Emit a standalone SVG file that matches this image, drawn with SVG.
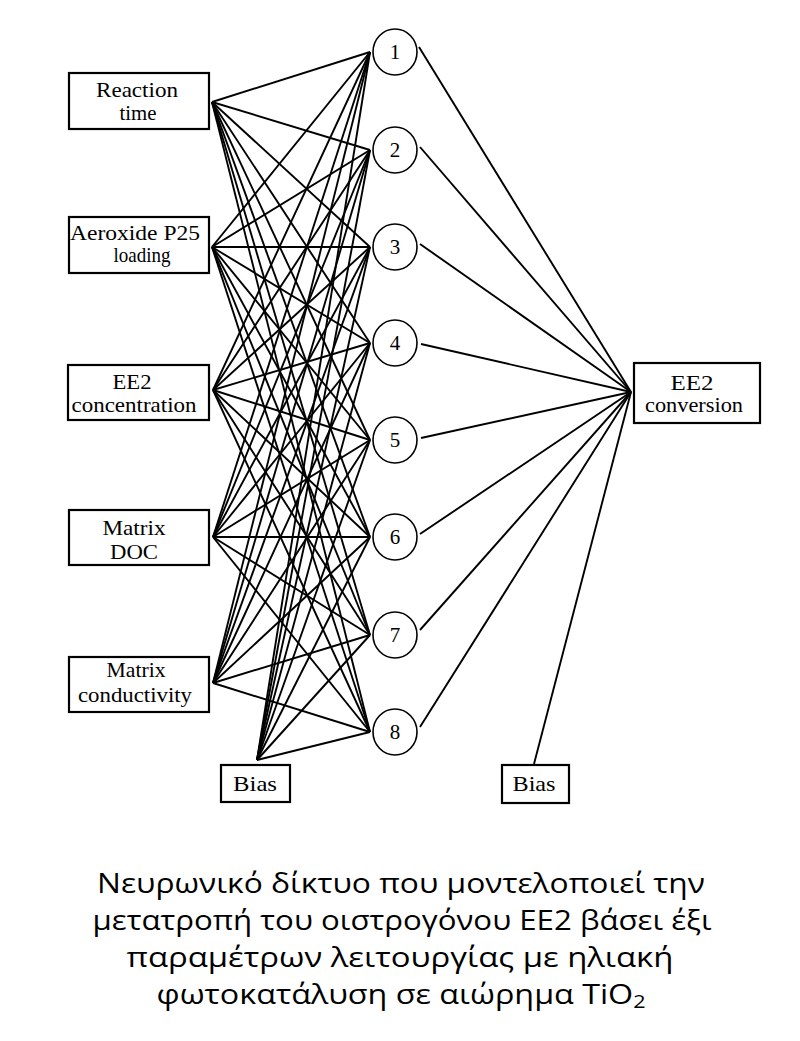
<svg xmlns="http://www.w3.org/2000/svg" width="800" height="1041" viewBox="0 0 800 1041">
<style>
.box{fill:#fff;stroke:#000;stroke-width:2.2}
.nd{fill:#fff;stroke:#000;stroke-width:1.6}
.lbl{font-family:"Liberation Serif","Times New Roman",serif;font-size:21px;fill:#000;text-anchor:middle}
.num{font-family:"Liberation Serif","Times New Roman",serif;font-size:21px;fill:#000;text-anchor:middle}
.cap{font-family:"Open Sans","Noto Sans","DejaVu Sans",sans-serif;font-size:27px;fill:#000;text-anchor:middle}
#connectors line{stroke:#000;stroke-width:1.9}
</style>
<rect width="800" height="1041" fill="#fff"/>
<g id="connectors">
<line x1="212" y1="102" x2="370" y2="52"/><line x1="212" y1="102" x2="370" y2="150"/><line x1="212" y1="102" x2="370" y2="247"/><line x1="212" y1="102" x2="370" y2="343"/><line x1="212" y1="102" x2="370" y2="440"/><line x1="212" y1="102" x2="370" y2="537"/><line x1="212" y1="102" x2="370" y2="635"/><line x1="212" y1="102" x2="370" y2="732"/>
<line x1="212" y1="247" x2="370" y2="52"/><line x1="212" y1="247" x2="370" y2="150"/><line x1="212" y1="247" x2="370" y2="247"/><line x1="212" y1="247" x2="370" y2="343"/><line x1="212" y1="247" x2="370" y2="440"/><line x1="212" y1="247" x2="370" y2="537"/><line x1="212" y1="247" x2="370" y2="635"/><line x1="212" y1="247" x2="370" y2="732"/>
<line x1="213" y1="390" x2="370" y2="52"/><line x1="213" y1="390" x2="370" y2="150"/><line x1="213" y1="390" x2="370" y2="247"/><line x1="213" y1="390" x2="370" y2="343"/><line x1="213" y1="390" x2="370" y2="440"/><line x1="213" y1="390" x2="370" y2="537"/><line x1="213" y1="390" x2="370" y2="635"/><line x1="213" y1="390" x2="370" y2="732"/>
<line x1="213" y1="537" x2="370" y2="52"/><line x1="213" y1="537" x2="370" y2="150"/><line x1="213" y1="537" x2="370" y2="247"/><line x1="213" y1="537" x2="370" y2="343"/><line x1="213" y1="537" x2="370" y2="440"/><line x1="213" y1="537" x2="370" y2="537"/><line x1="213" y1="537" x2="370" y2="635"/><line x1="213" y1="537" x2="370" y2="732"/>
<line x1="213" y1="683" x2="370" y2="52"/><line x1="213" y1="683" x2="370" y2="150"/><line x1="213" y1="683" x2="370" y2="247"/><line x1="213" y1="683" x2="370" y2="343"/><line x1="213" y1="683" x2="370" y2="440"/><line x1="213" y1="683" x2="370" y2="537"/><line x1="213" y1="683" x2="370" y2="635"/><line x1="213" y1="683" x2="370" y2="732"/>
<line x1="257" y1="760" x2="370" y2="52"/><line x1="257" y1="760" x2="370" y2="150"/><line x1="257" y1="760" x2="370" y2="247"/><line x1="257" y1="760" x2="370" y2="343"/><line x1="257" y1="760" x2="370" y2="440"/><line x1="257" y1="760" x2="370" y2="537"/><line x1="257" y1="760" x2="370" y2="635"/><line x1="257" y1="760" x2="370" y2="732"/>
<line x1="419" y1="47" x2="631" y2="392"/><line x1="420" y1="147" x2="631" y2="392"/><line x1="420" y1="244" x2="631" y2="392"/><line x1="421" y1="344" x2="631" y2="392"/><line x1="421" y1="438" x2="631" y2="392"/><line x1="420" y1="534" x2="631" y2="392"/><line x1="420" y1="630" x2="631" y2="392"/><line x1="420" y1="727" x2="631" y2="392"/><line x1="534" y1="764" x2="631" y2="392"/>
</g>
<g id="in-reaction"><rect class="box" x="69" y="73" width="140" height="56"/><text class="lbl" x="137" y="97" textLength="82" lengthAdjust="spacingAndGlyphs">Reaction</text><text class="lbl" x="138" y="120" textLength="37" lengthAdjust="spacingAndGlyphs">time</text></g>
<g id="in-aeroxide"><rect class="box" x="69" y="217" width="140" height="56"/><text class="lbl" x="135" y="240" textLength="130" lengthAdjust="spacingAndGlyphs">Aeroxide P25</text><text class="lbl" x="142" y="262" textLength="57" lengthAdjust="spacingAndGlyphs">loading</text></g>
<g id="in-ee2"><rect class="box" x="68" y="365" width="141" height="55"/><text class="lbl" x="132" y="389" textLength="39" lengthAdjust="spacingAndGlyphs">EE2</text><text class="lbl" x="134" y="412" textLength="125" lengthAdjust="spacingAndGlyphs">concentration</text></g>
<g id="in-doc"><rect class="box" x="69" y="510" width="140" height="55"/><text class="lbl" x="134" y="535" textLength="63" lengthAdjust="spacingAndGlyphs">Matrix</text><text class="lbl" x="134" y="559" textLength="48" lengthAdjust="spacingAndGlyphs">DOC</text></g>
<g id="in-cond"><rect class="box" x="69" y="657" width="140" height="55"/><text class="lbl" x="136" y="677" textLength="59" lengthAdjust="spacingAndGlyphs">Matrix</text><text class="lbl" x="135" y="702" textLength="114" lengthAdjust="spacingAndGlyphs">conductivity</text></g>
<g id="in-bias"><rect class="box" x="221" y="765" width="69" height="37"/><text class="lbl" x="255" y="791" textLength="44" lengthAdjust="spacingAndGlyphs">Bias</text></g>
<g id="h1"><ellipse class="nd" cx="395" cy="52" rx="22" ry="23"/><text class="num" x="395" y="59">1</text></g>
<g id="h2"><ellipse class="nd" cx="395" cy="150" rx="22" ry="23"/><text class="num" x="395" y="157">2</text></g>
<g id="h3"><ellipse class="nd" cx="395" cy="247" rx="22" ry="23"/><text class="num" x="395" y="254">3</text></g>
<g id="h4"><ellipse class="nd" cx="395" cy="343" rx="22" ry="23"/><text class="num" x="395" y="350">4</text></g>
<g id="h5"><ellipse class="nd" cx="395" cy="440" rx="22" ry="23"/><text class="num" x="395" y="447">5</text></g>
<g id="h6"><ellipse class="nd" cx="395" cy="537" rx="22" ry="23"/><text class="num" x="395" y="544">6</text></g>
<g id="h7"><ellipse class="nd" cx="395" cy="635" rx="22" ry="23"/><text class="num" x="395" y="642">7</text></g>
<g id="h8"><ellipse class="nd" cx="395" cy="732" rx="22" ry="23"/><text class="num" x="395" y="739">8</text></g>
<g id="out"><rect class="box" x="634" y="363" width="126" height="60"/><text class="lbl" x="692" y="390" textLength="43" lengthAdjust="spacingAndGlyphs">EE2</text><text class="lbl" x="694" y="412" textLength="98" lengthAdjust="spacingAndGlyphs">conversion</text></g>
<g id="out-bias"><rect class="box" x="502" y="765" width="67" height="38"/><text class="lbl" x="534" y="791" textLength="43" lengthAdjust="spacingAndGlyphs">Bias</text></g>
<g id="caption">
<text class="cap" x="401" y="893" textLength="608" lengthAdjust="spacingAndGlyphs">Νευρωνικό δίκτυο που μοντελοποιεί την</text>
<text class="cap" x="402" y="930" textLength="619" lengthAdjust="spacingAndGlyphs">μετατροπή του οιστρογόνου ΕΕ2 βάσει έξι</text>
<text class="cap" x="400" y="967" textLength="547" lengthAdjust="spacingAndGlyphs">παραμέτρων λειτουργίας με ηλιακή</text>
<text class="cap" x="401" y="1004" textLength="489" lengthAdjust="spacingAndGlyphs">φωτοκατάλυση  σε αιώρημα TiO<tspan font-size="18" dy="4">2</tspan></text>
</g>
</svg>
